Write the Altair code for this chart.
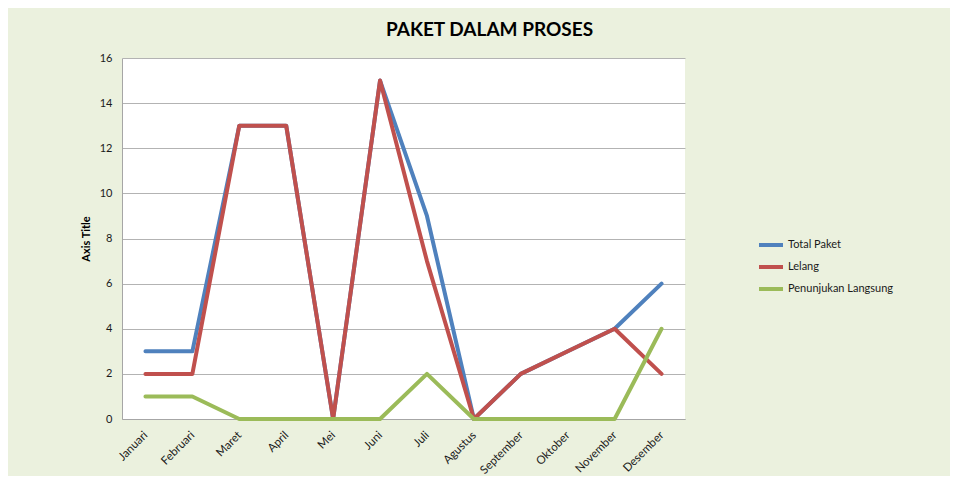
import altair as alt
import pandas as pd

months = ["Januari", "Februari", "Maret", "April", "Mei", "Juni", "Juli",
          "Agustus", "September", "Oktober", "November", "Desember"]
total_paket = [3, 3, 13, 13, 0, 15, 9, 0, 2, 3, 4, 6]
lelang = [2, 2, 13, 13, 0, 15, 7, 0, 2, 3, 4, 2]
penunjukan = [1, 1, 0, 0, 0, 0, 2, 0, 0, 0, 0, 4]

series = ["Total Paket", "Lelang", "Penunjukan Langsung"]
colors = ["#4F81BD", "#C0504D", "#9BBB59"]

rows = []
for name, vals in zip(series, [total_paket, lelang, penunjukan]):
    for i, (m, v) in enumerate(zip(months, vals)):
        rows.append({"Bulan": m, "Nilai": v, "Seri": name, "order": series.index(name)})
df = pd.DataFrame(rows)

FONT = "Lato"

chart = alt.Chart(df).mark_line(strokeWidth=4, strokeCap="round", strokeJoin="round").encode(
    x=alt.X("Bulan:N", sort=months, title=None,
            scale=alt.Scale(padding=0.5),
            axis=alt.Axis(labelAngle=-45, ticks=False, grid=False, domainColor="#A6A6A6",
                          labelFontSize=11.5, labelColor="#1a1a1a", labelPadding=10,
                          labelOffset=-4, labelFont=FONT)),
    y=alt.Y("Nilai:Q", title="Axis Title", scale=alt.Scale(domain=[0, 16], nice=False),
            axis=alt.Axis(values=list(range(0, 17, 2)), ticks=False, gridColor="#B3B3B3",
                          domainColor="#A6A6A6", labelFontSize=11, labelColor="#1a1a1a",
                          labelPadding=10, labelFont=FONT,
                          titleFont=FONT, titleFontSize=11, titleFontWeight="bold",
                          titleColor="#000000", titlePadding=8)),
    color=alt.Color("Seri:N", sort=series, scale=alt.Scale(domain=series, range=colors),
                    legend=alt.Legend(title=None, orient="none", legendX=635, legendY=173,
                                      symbolType="stroke", symbolSize=576, symbolStrokeWidth=4,
                                      labelFontSize=11, labelFont=FONT, labelColor="#1a1a1a",
                                      labelOffset=3, rowPadding=0)),
    detail="Seri:N",
    order=alt.Order("order:Q"),
).properties(
    width=563,
    height=361,
    autosize=alt.AutoSizeParams(type="none"),
    padding={"left": 114, "top": 50, "right": 265, "bottom": 57},
    title=alt.TitleParams("PAKET DALAM PROSES", font=FONT, fontSize=19, fontWeight="bold",
                          color="#000000", anchor="middle", dx=86, offset=12),
).configure(
    background="#EBF1DE",
).configure_view(
    fill="white", stroke=None,
)

chart.save("out.html", embed_options={"renderer": "svg", "actions": False})
